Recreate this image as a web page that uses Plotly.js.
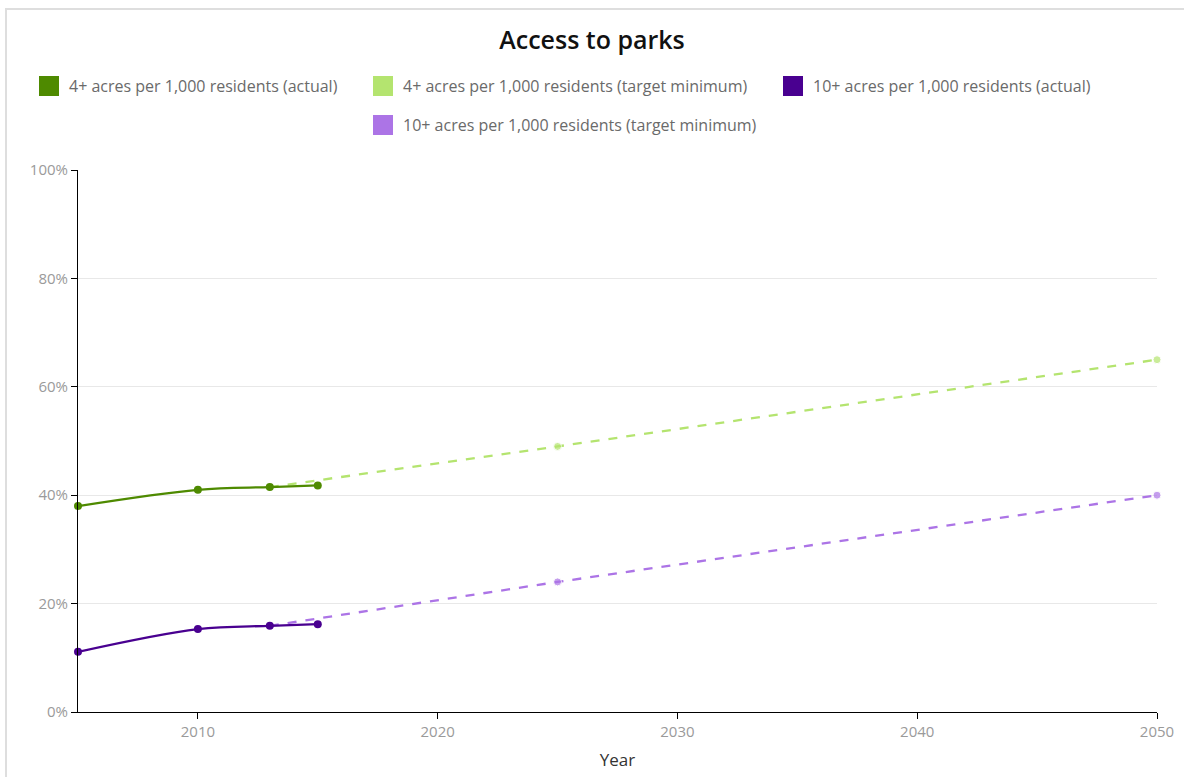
<!DOCTYPE html>
<html>
<head>
<meta charset="utf-8">
<script src="https://cdn.plot.ly/plotly-3.0.1.min.js"></script>
<style>
  html, body { margin: 0; padding: 0; background: #fff; }
  #wrap { position: relative; width: 1184px; height: 777px; overflow: hidden; }
  #chart { position: absolute; left: 0; top: 0; width: 1184px; height: 777px; }
  #frame { position: absolute; left: 5px; top: 8px; width: 1300px; height: 900px;
           border: 2px solid #dedede; pointer-events: none; box-sizing: border-box; }
</style>
</head>
<body>
<div id="wrap"><div id="chart"></div><div id="frame"></div></div>
<script>
const chartTitle = "Access to parks";
const xTitle = "Year";
const seriesNames = [
  "4+ acres per 1,000 residents (actual)",
  "4+ acres per 1,000 residents (target minimum)",
  "10+ acres per 1,000 residents (actual)",
  "10+ acres per 1,000 residents (target minimum)"
];
const seriesColors = ["#4e8a00", "#b4e46f", "#490090", "#ac74e6"];

const actualYears = [2005, 2010, 2013, 2015];
const four_actual = [38, 41, 41.5, 41.8];
const ten_actual = [11.1, 15.3, 15.9, 16.2];

const targetYears = [2013, 2025, 2050];
const four_target = [41.5, 49, 65];
const ten_target = [15.9, 24, 40];

const xTicks = [2010, 2020, 2030, 2040, 2050];
const yTicks = [0, 20, 40, 60, 80, 100];
const yTickText = yTicks.map(v => v + "%");

function lineTrace(x, y, color, dashed) {
  return {
    x: x, y: y, type: "scatter", mode: "lines+markers", cliponaxis: false,
    line: { color: color, width: 2.3, shape: dashed ? "linear" : "spline", dash: dashed ? "dash" : "solid" },
    marker: { color: color, size: dashed ? x.map((v, i) => i === 0 ? 0 : 8) : 8 },
    showlegend: false, hoverinfo: "x+y"
  };
}
function legendTrace(name, color, legendId) {
  return {
    x: [null], y: [null], type: "scatter", mode: "markers", name: name,
    legend: legendId, showlegend: true,
    marker: { color: color, symbol: "square", size: 20, line: { color: color, width: 4 } }
  };
}

const data = [
  lineTrace(targetYears, four_target, seriesColors[1], true),
  lineTrace(targetYears, ten_target, seriesColors[3], true),
  lineTrace(actualYears, four_actual, seriesColors[0], false),
  lineTrace(actualYears, ten_actual, seriesColors[2], false),
  legendTrace(seriesNames[0], seriesColors[0], "legend"),
  legendTrace(seriesNames[1], seriesColors[1], "legend2"),
  legendTrace(seriesNames[2], seriesColors[2], "legend3"),
  legendTrace(seriesNames[3], seriesColors[3], "legend4")
];

// legend boxes placed in container coordinates
function legendBox(px, py) {
  return { xref: "container", yref: "container", x: px / 1184, y: 1 - py / 777,
           xanchor: "left", yanchor: "middle", orientation: "h",
           font: { size: 16, color: "#6a6a6a" }, itemsizing: "trace", bgcolor: "rgba(0,0,0,0)" };
}

const layout = {
  width: 1184, height: 777,
  margin: { l: 78, r: 27, t: 170, b: 65 },
  paper_bgcolor: "rgba(0,0,0,0)", plot_bgcolor: "#fff",
  font: { family: "Open Sans, sans-serif", color: "#666" },
  title: { text: chartTitle, x: 0.5, xref: "container", xanchor: "center",
           yref: "container", y: 1 - 40 / 777, yanchor: "middle",
           font: { family: "Open Sans, sans-serif", size: 25, color: "#111", weight: 600 } },
  legend: legendBox(29, 86),
  legend2: legendBox(363, 86),
  legend3: legendBox(773, 86),
  legend4: legendBox(363, 125),
  xaxis: {
    range: [2005, 2050], tickvals: xTicks, ticktext: xTicks.map(String),
    showgrid: false, zeroline: false, showline: true, linecolor: "#000", linewidth: 1,
    ticks: "outside", ticklen: 6, tickcolor: "#000",
    tickfont: { size: 15, color: "#9a9a9a" },
    title: { text: xTitle, font: { size: 17, color: "#333" }, standoff: 14 }
  },
  yaxis: {
    range: [0, 100], tickvals: yTicks, ticktext: yTickText,
    showgrid: true, gridcolor: "#e8e8e8", zeroline: false, showline: true,
    linecolor: "#000", linewidth: 1, ticks: "outside", ticklen: 6, tickcolor: "#000",
    tickfont: { size: 15, color: "#9a9a9a" }
  }
};

Plotly.newPlot("chart", data, layout, { displayModeBar: false, staticPlot: true });
</script>
</body>
</html>
